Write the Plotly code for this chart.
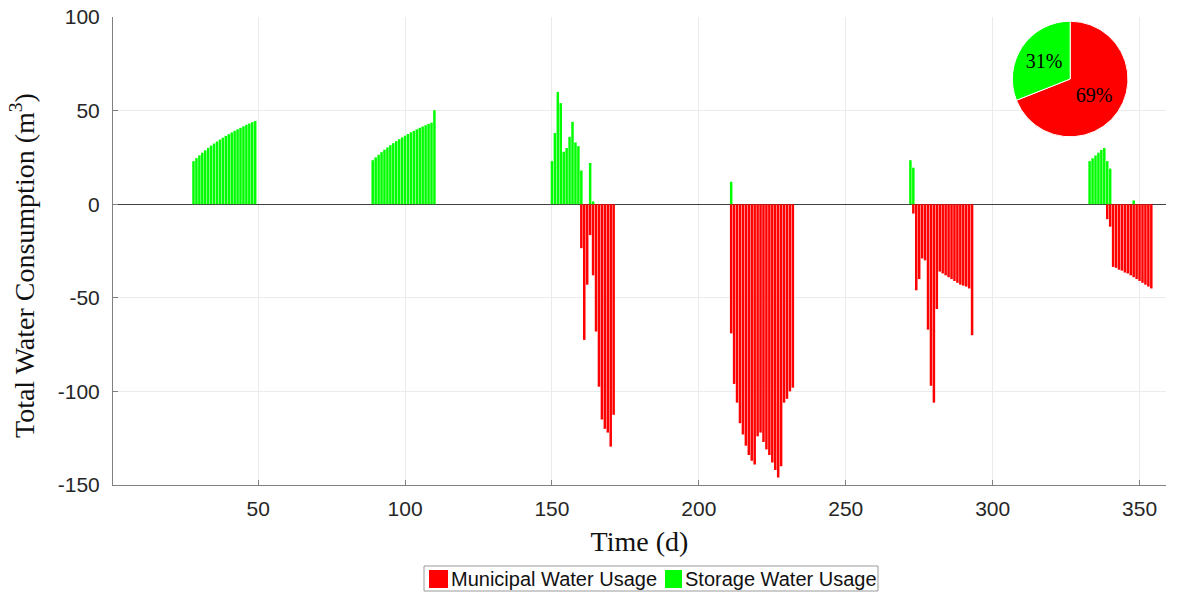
import plotly.graph_objects as go

# ---- data ----
storage_days = (list(range(28, 50)) + list(range(89, 111)) + list(range(150, 161)) + [163, 164]
                + [211] + [272, 273] + list(range(333, 341)) + [348])
storage_values = ([23.0, 24.6, 26.1, 27.5, 28.8, 30.1, 31.3, 32.4, 33.5, 34.5, 35.5,
                   36.5, 37.4, 38.3, 39.2, 40.0, 40.8, 41.6, 42.4, 43.1, 43.8, 44.5]
                  + [23.5, 25.0, 26.4, 27.8, 29.1, 30.3, 31.5, 32.6, 33.7, 34.7, 35.7,
                     36.6, 37.5, 38.4, 39.2, 40.0, 40.8, 41.5, 42.2, 42.9, 43.6, 50.2]
                  + [23, 38, 60, 54, 28, 30, 36, 44, 33, 31, 18] + [22, 1.5]
                  + [12] + [23.5, 19.5]
                  + [23, 24.5, 26, 27.5, 29, 30, 23, 19] + [2])

municipal_days = (list(range(160, 172)) + list(range(211, 233)) + list(range(273, 294))
                  + list(range(339, 355)))
municipal_values = ([-23.5, -72.5, -43, -16.5, -38, -68, -97.5, -115, -120, -122, -129.5, -112.5]
                    + [-69, -96, -106, -117, -123, -129, -134, -137, -139, -124, -122,
                       -127, -131, -134, -138, -142, -146, -140, -106, -104, -100, -98]
                    + [-5, -46, -40, -29, -30, -67, -97, -106, -56, -36, -37, -38, -39,
                       -40, -41, -42, -43, -43.5, -44, -45, -70]
                    + [-8, -12, -33.5, -34, -35, -35.5, -36.5, -37, -38, -39, -40, -41,
                       -42, -43, -44, -45])

pie_labels = ["Municipal Water Usage", "Storage Water Usage"]
pie_values = [69, 31]

x_ticks = [50, 100, 150, 200, 250, 300, 350]
y_ticks = [100, 50, 0, -50, -100, -150]
y_tick_text = ["100", "50", "0", "-50", "-100", "-150"]

RED = "#ff0000"
GREEN = "#00ff00"
SERIF = "Liberation Serif, Times New Roman, serif"
SANS = "Liberation Sans, Arial, sans-serif"

fig = go.Figure()
fig.add_trace(go.Bar(x=municipal_days, y=municipal_values, name=pie_labels[0],
                     marker=dict(color=RED, line=dict(width=0)), width=0.85, showlegend=False))
fig.add_trace(go.Bar(x=storage_days, y=storage_values, name=pie_labels[1],
                     marker=dict(color=GREEN, line=dict(width=0)), width=0.85, showlegend=False))
fig.add_trace(go.Pie(labels=pie_labels, values=pie_values, sort=False, direction="clockwise",
                     rotation=0, marker=dict(colors=[RED, GREEN], line=dict(color="white", width=1)),
                     texttemplate="%{percent:.0%}", textposition="inside",
                     insidetextorientation="horizontal",
                     textfont=dict(family=SERIF, size=20, color="black"),
                     domain=dict(x=[0.854, 0.964], y=[0.744, 0.991]), showlegend=False,
                     hoverinfo="label+percent"))

# ---- custom legend (box, colour squares, labels) below the plot ----
L, T, PW, PH = 113, 17, 1053, 468


def px(x):
    return (x - L) / PW


def py(y):
    return (T + PH - y) / PH


shapes = [
    dict(type="rect", xref="paper", yref="paper", x0=px(424), x1=px(878), y0=py(591), y1=py(566),
         line=dict(color="#9a9a9a", width=1), fillcolor="white", layer="above"),
    dict(type="rect", xref="paper", yref="paper", x0=px(429), x1=px(448), y0=py(588), y1=py(570),
         line=dict(width=0), fillcolor=RED, layer="above"),
    dict(type="rect", xref="paper", yref="paper", x0=px(665), x1=px(682), y0=py(588), y1=py(570),
         line=dict(width=0), fillcolor=GREEN, layer="above"),
]
annotations = [
    dict(text=pie_labels[0], xref="paper", yref="paper", x=px(449), y=py(579), xanchor="left",
         yanchor="middle", showarrow=False, font=dict(family=SANS, size=20, color="#111")),
    dict(text=pie_labels[1], xref="paper", yref="paper", x=px(683), y=py(579), xanchor="left",
         yanchor="middle", showarrow=False, font=dict(family=SANS, size=20, color="#111")),
    dict(text="Total Water Consumption (m<sup>3</sup>)", xref="paper", yref="paper",
         x=px(22), y=py(266), xanchor="center", yanchor="middle", textangle=-90, showarrow=False,
         font=dict(family=SERIF, size=28, color="#111")),
]

fig.update_layout(
    width=1182, height=595,
    margin=dict(l=L, r=1182 - L - PW, t=T, b=595 - T - PH, autoexpand=False),
    paper_bgcolor="white", plot_bgcolor="white",
    barmode="overlay",
    showlegend=False,
    shapes=shapes, annotations=annotations,
    xaxis=dict(range=[0.6, 359], tickvals=x_ticks, ticks="inside", ticklen=5, tickcolor="#808080",
               showline=True, linecolor="#808080", linewidth=1, showgrid=True, gridcolor="#ebebeb",
               zeroline=False, ticklabelstandoff=5, automargin=False,
               tickfont=dict(family=SANS, size=21, color="#262626"),
               title=dict(text="Time (d)", font=dict(family=SERIF, size=28, color="#111"), standoff=12)),
    yaxis=dict(range=[-150, 100], tickvals=y_ticks, ticktext=y_tick_text, ticks="inside", ticklen=5,
               tickcolor="#808080", showline=True, linecolor="#808080", linewidth=1, showgrid=True,
               gridcolor="#ebebeb", zeroline=True, zerolinecolor="#404040", zerolinewidth=1,
               ticklabelstandoff=8, automargin=False,
               tickfont=dict(family=SANS, size=21, color="#262626")),
)

fig.write_html("out.html")
